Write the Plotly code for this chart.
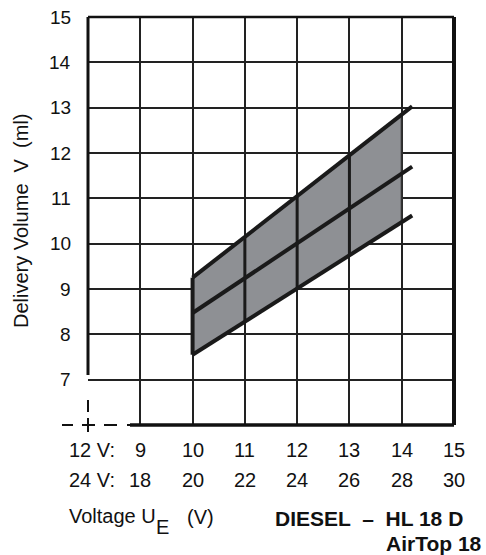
import plotly.graph_objects as go

# ---- data ----
volt_12v = [9, 10, 11, 12, 13, 14, 15]
volt_24v = [18, 20, 22, 24, 26, 28, 30]
y_ticks = [7, 8, 9, 10, 11, 12, 13, 14, 15]

# band (12 V scale): left edge at 10 V, right edge at 14 V
band_x = [10, 14]
band_upper = [9.25, 12.85]
band_lower = [7.55, 10.48]

# characteristic lines (12 V scale)
line_x = [10, 14.2]
line_upper = [9.25, 13.03]
line_middle = [8.47, 11.70]
line_lower = [7.55, 10.62]

FONT = "Liberation Sans, Arial, sans-serif"
W, H = 486, 555
L, R, T, B = 88, 32, 17, 130
PW, PH = W - L - R, H - T - B


def px(xp):
    return (xp - L) / PW


def py(yp):
    return (H - B - yp) / PH


fig = go.Figure()

# band fill
fig.add_trace(go.Scatter(
    x=band_x + band_x[::-1],
    y=band_upper + band_lower[::-1],
    fill="toself", fillcolor="#8e9094", mode="lines",
    line=dict(color="#8e9094", width=0), hoverinfo="skip", showlegend=False))


def interp(xs, ys, x):
    return ys[0] + (ys[1] - ys[0]) * (x - xs[0]) / (xs[1] - xs[0])


# vertical grid lines inside the band drawn bold
for xv in [11, 12, 13]:
    fig.add_trace(go.Scatter(
        x=[xv, xv], y=[interp(band_x, band_lower, xv), interp(band_x, band_upper, xv)],
        mode="lines", line=dict(color="#1a1a1a", width=3), hoverinfo="skip", showlegend=False))

# left and right band edges
fig.add_trace(go.Scatter(x=[band_x[0], band_x[0]], y=[band_lower[0], band_upper[0]],
                         mode="lines", line=dict(color="#1a1a1a", width=4),
                         hoverinfo="skip", showlegend=False))
fig.add_trace(go.Scatter(x=[band_x[1], band_x[1]], y=[band_lower[1], band_upper[1]],
                         mode="lines", line=dict(color="#333", width=2),
                         hoverinfo="skip", showlegend=False))

for ys in (line_upper, line_middle, line_lower):
    fig.add_trace(go.Scatter(x=line_x, y=ys, mode="lines",
                             line=dict(color="#1a1a1a", width=4),
                             hoverinfo="skip", showlegend=False))

shapes = []
blk = "#111"
shapes.append(dict(type="line", xref="paper", yref="paper", x0=0, x1=1, y0=1, y1=1,
                   line=dict(color=blk, width=2.5)))
shapes.append(dict(type="line", xref="paper", yref="paper", x0=1, x1=1, y0=0, y1=1,
                   line=dict(color=blk, width=4)))
shapes.append(dict(type="line", xref="paper", yref="paper", x0=0, x1=0, y0=py(375), y1=1,
                   line=dict(color=blk, width=3)))
shapes.append(dict(type="line", xref="paper", yref="paper", x0=px(130), x1=1, y0=0, y1=0,
                   line=dict(color=blk, width=3.5)))
# dashed axis pieces near origin
for x0, x1 in [(62, 73), (82, 95), (104, 117), (127, 133)]:
    shapes.append(dict(type="line", xref="paper", yref="paper", x0=px(x0), x1=px(x1),
                       y0=0, y1=0, line=dict(color=blk, width=2)))
for y0, y1 in [(400, 412), (418, 432)]:
    shapes.append(dict(type="line", xref="paper", yref="paper", x0=0, x1=0,
                       y0=py(y0), y1=py(y1), line=dict(color=blk, width=2)))

annotations = []


def txt(x, y, text, anchor="left", size=20, **kw):
    annotations.append(dict(xref="paper", yref="paper", x=px(x), y=py(y), text=text,
                            showarrow=False, xanchor=anchor, yanchor="middle",
                            font=dict(family=FONT, size=size, color="#111"), **kw))


for v in y_ticks:
    annotations.append(dict(xref="paper", yref="y", x=0, y=v, xshift=-15, xanchor="right",
                            yanchor="middle", text=str(v), showarrow=False,
                            font=dict(family=FONT, size=19, color="#111")))
for a, b in zip(volt_12v, volt_24v):
    annotations.append(dict(xref="x", yref="paper", x=a, y=py(450), text=str(a),
                            showarrow=False, xanchor="center", yanchor="middle",
                            font=dict(family=FONT, size=20, color="#111")))
    annotations.append(dict(xref="x", yref="paper", x=a, y=py(480), text=str(b),
                            showarrow=False, xanchor="center", yanchor="middle",
                            font=dict(family=FONT, size=20, color="#111")))
txt(67, 450, "12 V:")
txt(67, 480, "24 V:")
txt(67, 516, "Voltage U")
txt(154, 527, "E")
txt(185, 517, "(V)")
txt(465, 518, "<b>DIESEL  –  HL 18 D</b>", anchor="right", size=21)
txt(484, 543, "<b>AirTop 18</b>", anchor="right", size=21)
txt(21, 221, "Delivery Volume  V  (ml)", anchor="center", textangle=-90)

fig.update_layout(
    width=W, height=H,
    margin=dict(l=L, r=R, t=T, b=B),
    paper_bgcolor="white", plot_bgcolor="white",
    showlegend=False,
    xaxis=dict(range=[8, 15], tickvals=[9, 10, 11, 12, 13, 14], showticklabels=False,
               showgrid=True, gridcolor="#222", gridwidth=1.5, zeroline=False,
               showline=False, ticks="", fixedrange=True),
    yaxis=dict(range=[6, 15], tickvals=[7, 8, 9, 10, 11, 12, 13, 14], showticklabels=False,
               showgrid=True, gridcolor="#222", gridwidth=1.5, zeroline=False,
               showline=False, ticks="", fixedrange=True),
    shapes=shapes, annotations=annotations,
)

fig.write_html("out.html", config={"displayModeBar": False},
               post_script="document.body.style.margin='0';")
